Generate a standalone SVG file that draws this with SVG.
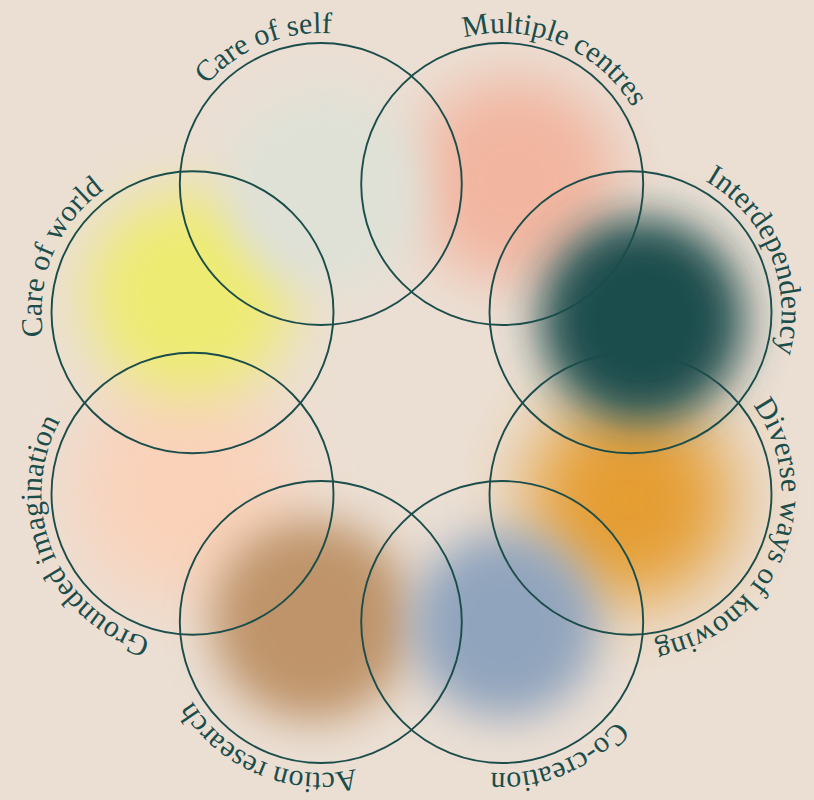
<svg xmlns="http://www.w3.org/2000/svg" xmlns:xlink="http://www.w3.org/1999/xlink" width="814" height="800" viewBox="0 0 814 800">
  <defs>
    <filter id="b22" x="-60%" y="-60%" width="220%" height="220%"><feGaussianBlur stdDeviation="22"/></filter>
    <filter id="b28" x="-60%" y="-60%" width="220%" height="220%"><feGaussianBlur stdDeviation="28"/></filter>
    <filter id="b35" x="-60%" y="-60%" width="220%" height="220%"><feGaussianBlur stdDeviation="35"/></filter>
    <path id="p1" d="M 378.59 323.51 A 151 151 0 1 1 263.01 44.49 A 151 151 0 1 1 378.59 323.51"/>
    <path id="p2" d="M 444.41 323.51 A 151 151 0 1 1 559.99 44.49 A 151 151 0 1 1 444.41 323.51"/>
    <path id="p3" d="M 490.99 370.09 A 151 151 0 1 1 770.01 254.51 A 151 151 0 1 1 490.99 370.09"/>
    <path id="p4" d="M 490.99 435.91 A 151 151 0 1 1 770.01 551.49 A 151 151 0 1 1 490.99 435.91"/>
    <path id="p5" d="M 444.41 482.49 A 151 151 0 1 1 559.99 761.51 A 151 151 0 1 1 444.41 482.49"/>
    <path id="p6" d="M 378.59 482.49 A 151 151 0 1 1 263.01 761.51 A 151 151 0 1 1 378.59 482.49"/>
    <path id="p7" d="M 332.01 435.91 A 151 151 0 1 1 52.99 551.49 A 151 151 0 1 1 332.01 435.91"/>
    <path id="p8" d="M 332.01 370.09 A 151 151 0 1 1 52.99 254.51 A 151 151 0 1 1 332.01 370.09"/>
  </defs>
  <style>
    .c { fill: none; stroke: #1b4d4b; stroke-width: 1.9; }
    .t { font-family: "Liberation Serif", "DejaVu Serif", serif; font-size: 30px; fill: #1b4d4b; }
  </style>
  <rect width="814" height="800" fill="#ebdfd4"/>
  <g id="blobs">
    <circle cx="185" cy="490" r="112" fill="#fad2b9" filter="url(#b35)"/>
    <circle cx="190" cy="295" r="103" fill="#eeeb72" filter="url(#b28)"/>
    <circle cx="515" cy="180" r="103" fill="#f2b6a0" filter="url(#b28)"/>
    <circle cx="325" cy="190" r="100" fill="#dfe1d7" filter="url(#b22)"/>
    <circle cx="630" cy="500" r="103" fill="#e59d31" filter="url(#b35)"/>
    <circle cx="642" cy="320" r="102" fill="#1c4e4d" filter="url(#b22)"/>
    <circle cx="312" cy="620" r="100" fill="#bf946b" filter="url(#b22)"/>
    <circle cx="505" cy="625" r="93" fill="#91a4bd" filter="url(#b22)"/>
  </g>
  <g id="node-care-of-self"><circle class="c" cx="320.8" cy="184" r="141"/><text class="t" text-anchor="middle"><textPath xlink:href="#p1" href="#p1" startOffset="50%">Care of self</textPath></text></g>
  <g id="node-multiple-centres"><circle class="c" cx="502.2" cy="184" r="141"/><text class="t" text-anchor="middle"><textPath xlink:href="#p2" href="#p2" startOffset="50%">Multiple centres</textPath></text></g>
  <g id="node-interdependency"><circle class="c" cx="630.5" cy="312.3" r="141"/><text class="t" text-anchor="middle"><textPath xlink:href="#p3" href="#p3" startOffset="50%">Interdependency</textPath></text></g>
  <g id="node-diverse-ways"><circle class="c" cx="630.5" cy="493.7" r="141"/><text class="t" text-anchor="middle"><textPath xlink:href="#p4" href="#p4" startOffset="50%">Diverse ways of knowing</textPath></text></g>
  <g id="node-co-creation"><circle class="c" cx="502.2" cy="622" r="141"/><text class="t" text-anchor="middle"><textPath xlink:href="#p5" href="#p5" startOffset="50%">Co-creation</textPath></text></g>
  <g id="node-action-research"><circle class="c" cx="320.8" cy="622" r="141"/><text class="t" text-anchor="middle"><textPath xlink:href="#p6" href="#p6" startOffset="50%">Action research</textPath></text></g>
  <g id="node-grounded-imagination"><circle class="c" cx="192.5" cy="493.7" r="141"/><text class="t" text-anchor="middle"><textPath xlink:href="#p7" href="#p7" startOffset="50%">Grounded imagination</textPath></text></g>
  <g id="node-care-of-world"><circle class="c" cx="192.5" cy="312.3" r="141"/><text class="t" text-anchor="middle"><textPath xlink:href="#p8" href="#p8" startOffset="50%">Care of world</textPath></text></g>
  <g id="connectors"/>
</svg>
